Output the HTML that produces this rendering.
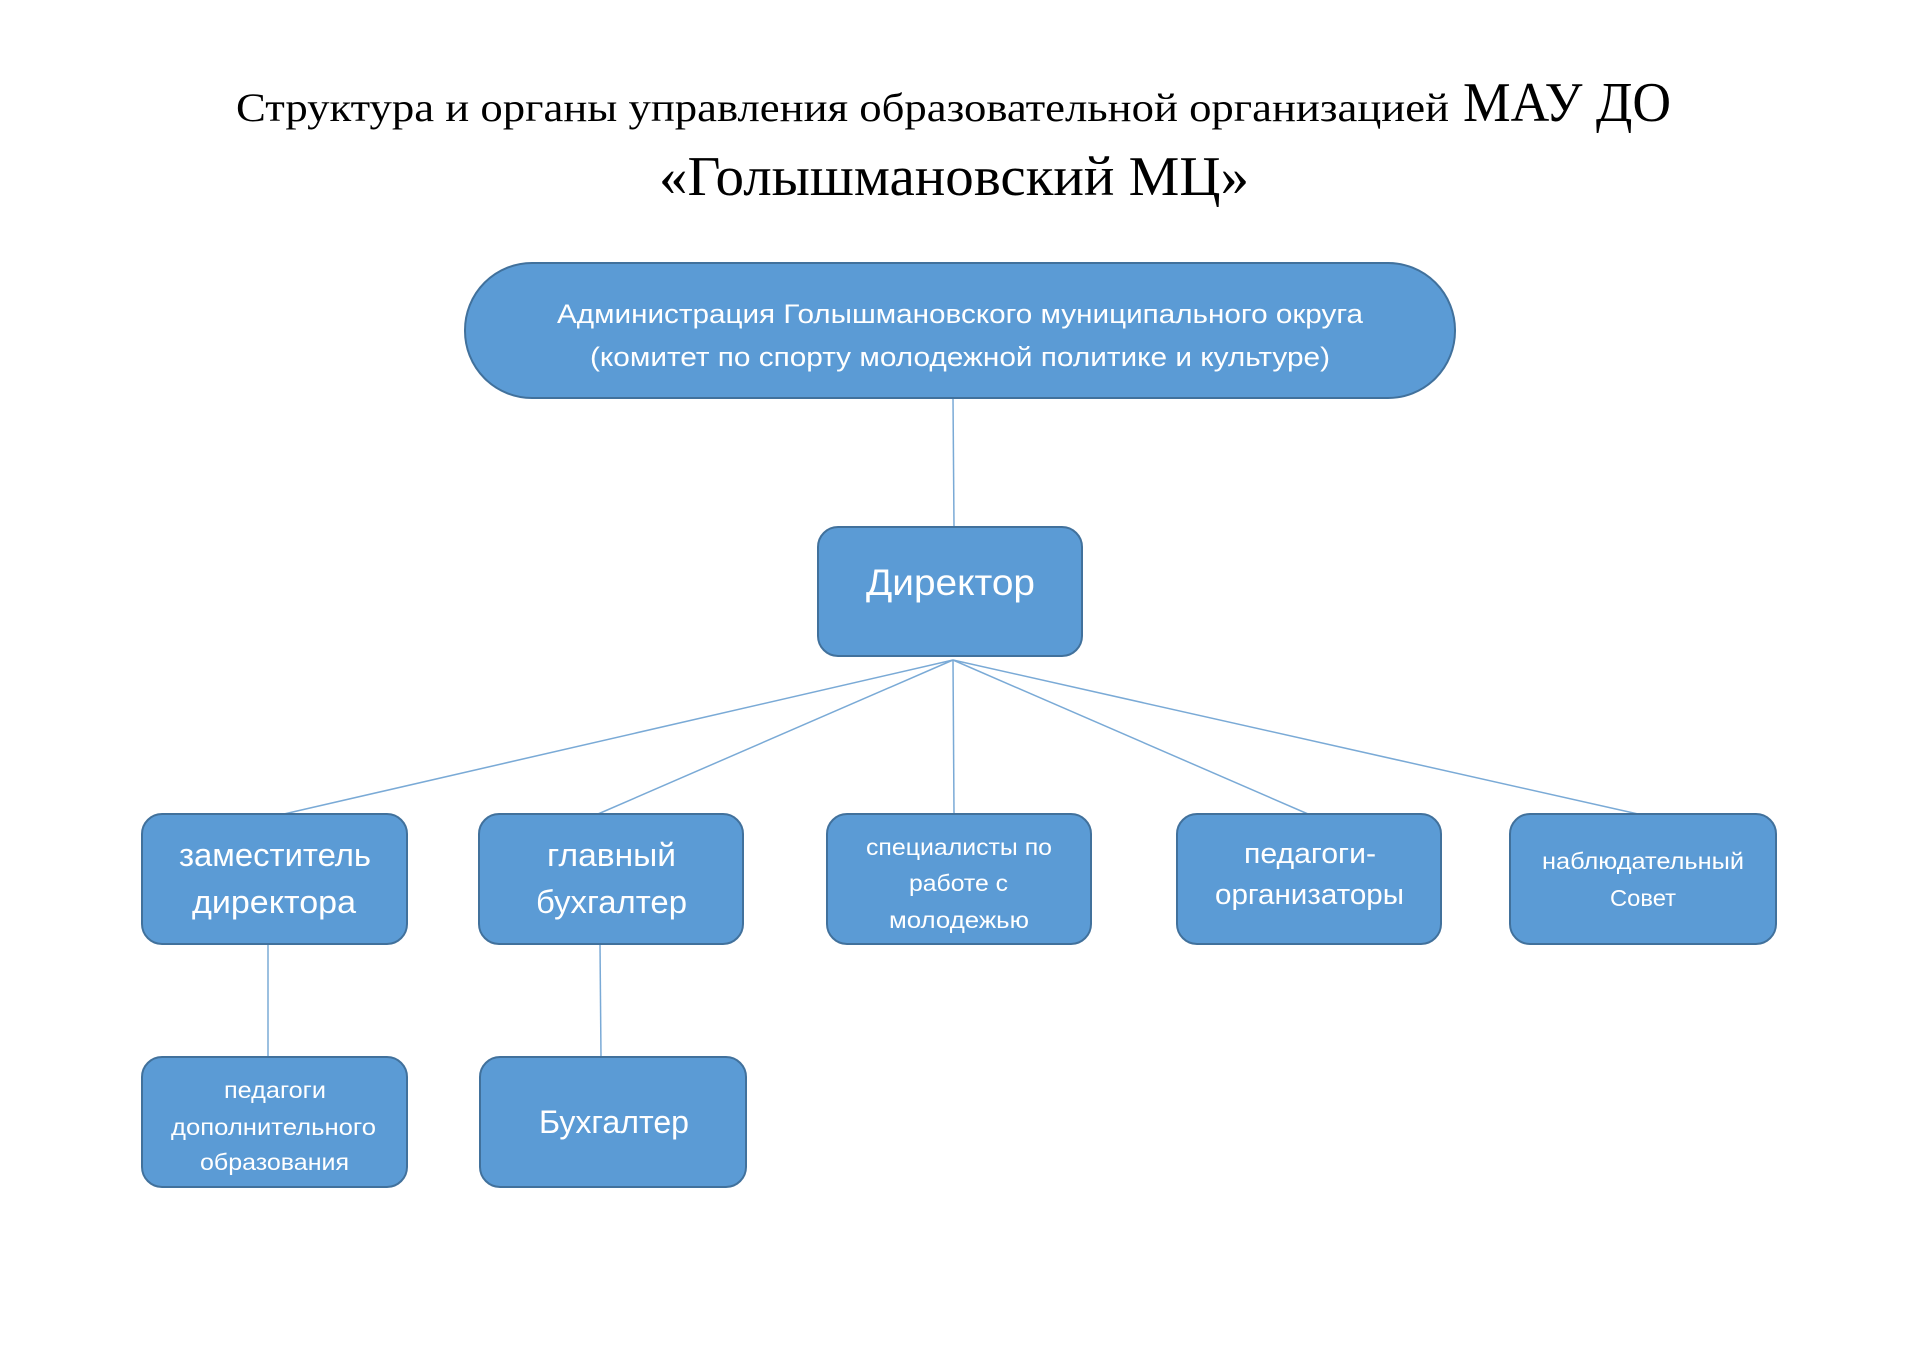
<!DOCTYPE html>
<html><head><meta charset="utf-8"><style>html,body{margin:0;padding:0;background:#fff}svg{display:block}</style></head><body>
<svg width="1920" height="1358" viewBox="0 0 1920 1358" xmlns="http://www.w3.org/2000/svg">
<g font-family="'Liberation Serif', serif" fill="#000">
<text x="236" y="121" font-size="40" textLength="1213" lengthAdjust="spacingAndGlyphs">Структура и органы управления образовательной организацией</text>
<text x="1463" y="121" font-size="56" textLength="208" lengthAdjust="spacingAndGlyphs">МАУ ДО</text>
<text x="659" y="195" font-size="56" textLength="590" lengthAdjust="spacingAndGlyphs">«Голышмановский МЦ»</text>
</g>
<g stroke="#7aaad6" stroke-width="1.5" fill="none">
<line x1="953" y1="398" x2="954" y2="527"/>
<line x1="953" y1="660" x2="284" y2="814"/>
<line x1="953" y1="660" x2="598" y2="814"/>
<line x1="953" y1="660" x2="954" y2="814"/>
<line x1="953" y1="660" x2="1308" y2="814"/>
<line x1="953" y1="660" x2="1638" y2="814"/>
<line x1="268" y1="944" x2="268" y2="1057"/>
<line x1="600" y1="944" x2="601" y2="1057"/>
</g>
<g fill="#5b9bd5" stroke="#41719c" stroke-width="2">
<rect x="465" y="263" width="990" height="135" rx="67" ry="67"/>
<rect x="818" y="527" width="264" height="129" rx="20"/>
<rect x="142" y="814" width="265" height="130" rx="20"/>
<rect x="479" y="814" width="264" height="130" rx="20"/>
<rect x="827" y="814" width="264" height="130" rx="20"/>
<rect x="1177" y="814" width="264" height="130" rx="20"/>
<rect x="1510" y="814" width="266" height="130" rx="20"/>
<rect x="142" y="1057" width="265" height="130" rx="20"/>
<rect x="480" y="1057" width="266" height="130" rx="20"/>
</g>
<g font-family="'Liberation Sans', sans-serif" fill="#fff" lengthAdjust="spacingAndGlyphs">
<text x="557" y="323" font-size="27" textLength="806" lengthAdjust="spacingAndGlyphs">Администрация Голышмановского муниципального округа</text>
<text x="590" y="366" font-size="27" textLength="740" lengthAdjust="spacingAndGlyphs">(комитет по спорту молодежной политике и культуре)</text>
<text x="866" y="595" font-size="37" textLength="169" lengthAdjust="spacingAndGlyphs">Директор</text>
<text x="179" y="866" font-size="32" textLength="192" lengthAdjust="spacingAndGlyphs">заместитель</text>
<text x="192" y="913" font-size="32" textLength="164" lengthAdjust="spacingAndGlyphs">директора</text>
<text x="547" y="866" font-size="32" textLength="129" lengthAdjust="spacingAndGlyphs">главный</text>
<text x="536" y="913" font-size="32" textLength="151" lengthAdjust="spacingAndGlyphs">бухгалтер</text>
<text x="866" y="855" font-size="23" textLength="186" lengthAdjust="spacingAndGlyphs">специалисты по</text>
<text x="909" y="891" font-size="23" textLength="99" lengthAdjust="spacingAndGlyphs">работе с</text>
<text x="889" y="928" font-size="23" textLength="140" lengthAdjust="spacingAndGlyphs">молодежью</text>
<text x="1244" y="863" font-size="29" textLength="132" lengthAdjust="spacingAndGlyphs">педагоги-</text>
<text x="1215" y="904" font-size="29" textLength="189" lengthAdjust="spacingAndGlyphs">организаторы</text>
<text x="1542" y="869" font-size="23" textLength="202" lengthAdjust="spacingAndGlyphs">наблюдательный</text>
<text x="1610" y="906" font-size="23" textLength="66" lengthAdjust="spacingAndGlyphs">Совет</text>
<text x="224" y="1098" font-size="23" textLength="102" lengthAdjust="spacingAndGlyphs">педагоги</text>
<text x="171" y="1135" font-size="23" textLength="205" lengthAdjust="spacingAndGlyphs">дополнительного</text>
<text x="200" y="1170" font-size="23" textLength="149" lengthAdjust="spacingAndGlyphs">образования</text>
<text x="539" y="1133" font-size="32" textLength="150" lengthAdjust="spacingAndGlyphs">Бухгалтер</text>
</g>
</svg>
</body></html>
